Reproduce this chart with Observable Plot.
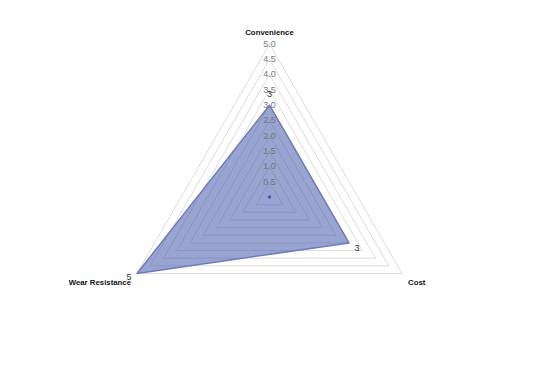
<!DOCTYPE html>
<html>
<head>
<meta charset="utf-8">
<script src="https://cdn.jsdelivr.net/npm/d3@7"></script>
<script src="https://cdn.jsdelivr.net/npm/@observablehq/plot@0.6"></script>
<style>
  html, body { margin: 0; padding: 0; background: #fff; }
  #chart svg { display: block; }
</style>
</head>
<body>
<div id="chart"></div>
<script>
// ---- data ----
const axisNames = ["Convenience", "Cost", "Wear Resistance"];
const seriesValues = [3, 3, 5];
const maxValue = 5;
const gridLevels = [0.5, 1, 1.5, 2, 2.5, 3, 3.5, 4, 4.5, 5];
const tickLabels = ["0.5", "1.0", "1.5", "2.0", "2.5", "3.0", "3.5", "4.0", "4.5", "5.0"];

// ---- geometry helpers (data space; scales map to pixels) ----
const W = 538, H = 367;
const cx = 269, cy = 196.5, pxPerUnit = 30.6;
const angleOf = i => (90 - 120 * i) * Math.PI / 180;
const pt = (i, r) => ({ x: r * Math.cos(angleOf(i)), y: r * Math.sin(angleOf(i)) });

const gridData = gridLevels.flatMap(l =>
  [0, 1, 2, 0].map(i => ({ level: l, ...pt(i, l) }))
);
const polyData = [0, 1, 2, 0].map(i => pt(i, seriesValues[i]));
const tickData = gridLevels.map((l, k) => ({ x: 0, y: l, label: tickLabels[k] }));
const nameData = axisNames.map((n, i) => ({ name: n, i, ...pt(i, maxValue) }));
const valueData = seriesValues.map((v, i) => ({ v, i, ...pt(i, v) }));

const nameStyle = [
  { textAnchor: "middle", dx: 0, dy: -12 },
  { textAnchor: "start", dx: 6, dy: 9 },
  { textAnchor: "end", dx: -6, dy: 9 }
];
const valueOffset = [
  { dx: 0, dy: -11 },
  { dx: 8, dy: 5 },
  { dx: -8, dy: 4 }
];

const chart = Plot.plot({
  width: W,
  height: H,
  margin: 0,
  x: { domain: [-cx / pxPerUnit, (W - cx) / pxPerUnit], axis: null },
  y: { domain: [-(H - cy) / pxPerUnit, cy / pxPerUnit], axis: null },
  style: { fontFamily: "'Liberation Sans', Arial, sans-serif", background: "#fff" },
  marks: [
    Plot.line(gridData, { x: "x", y: "y", z: "level", stroke: "#dcdcdc", strokeWidth: 1, curve: "linear-closed" }),
    Plot.line(polyData, { x: "x", y: "y", fill: "#465aaa", fillOpacity: 0.55, stroke: "#6b7cc0", strokeWidth: 1.5 }),
    Plot.dot([{ x: 0, y: 0 }], { x: "x", y: "y", r: 1.8, fill: "#4a5ba5", stroke: null }),
    Plot.text(tickData, { x: "x", y: "y", text: "label", fill: "#777", fontSize: 9, textAnchor: "middle" }),
    ...nameData.map(d => Plot.text([d], {
      x: "x", y: "y", text: "name", fontSize: 7.8, fontWeight: "bold", fill: "#111",
      textAnchor: nameStyle[d.i].textAnchor, dx: nameStyle[d.i].dx, dy: nameStyle[d.i].dy
    })),
    ...valueData.map(d => Plot.text([d], {
      x: "x", y: "y", text: "v", fontSize: 9, fill: "#333",
      dx: valueOffset[d.i].dx, dy: valueOffset[d.i].dy
    }))
  ]
});
document.getElementById("chart").appendChild(chart);
</script>
</body>
</html>
